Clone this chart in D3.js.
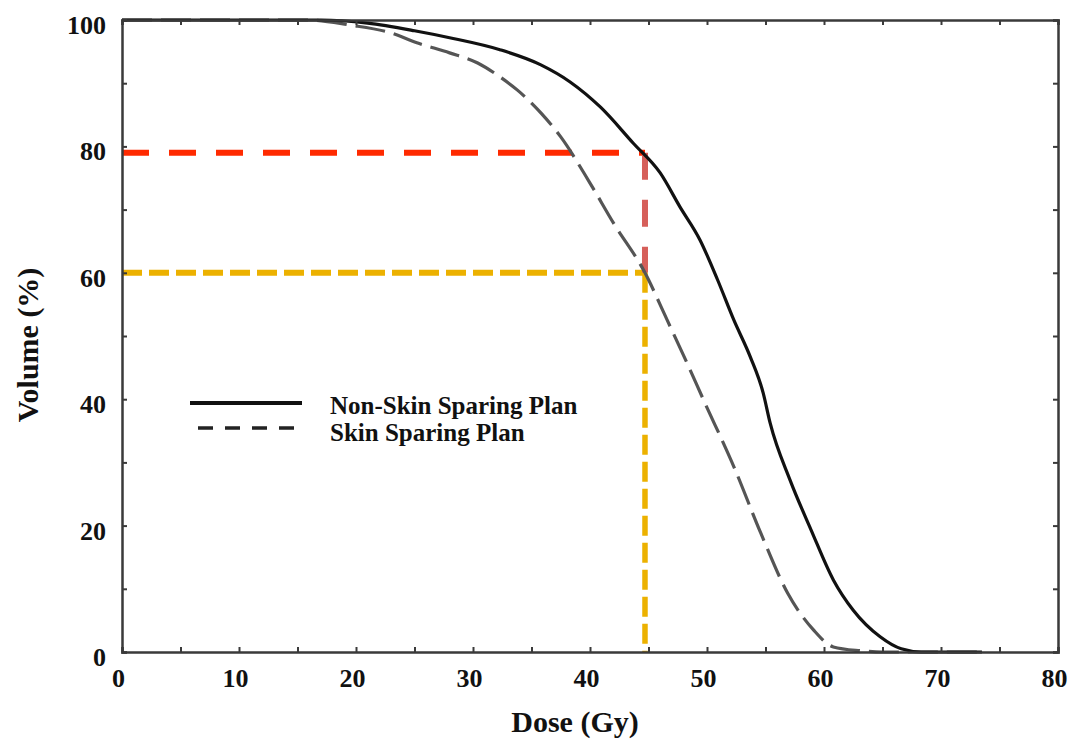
<!DOCTYPE html>
<html>
<head>
<meta charset="utf-8">
<title>Dose volume histogram</title>
<script src="https://cdn.jsdelivr.net/npm/d3@7"></script>
<style>
    html, body { margin: 0; padding: 0; background: #fff; }
    svg { display: block; }
    text { font-family: "Liberation Serif", "Times New Roman", serif; font-weight: bold; fill: #111; }
</style>
</head>
<body>
<div id="graph-01"></div>
<script>
// data
var X_TICKS = [0, 5, 10, 15, 20, 25, 30, 35, 40, 45, 50, 55, 60, 65, 70, 75, 80];
var Y_TICKS = [0, 10, 20, 30, 40, 50, 60, 70, 80, 90, 100];

// Non-Skin Sparing Plan (solid)
var solidDose = [0, 10, 17, 21, 25, 28, 32.3, 35.8, 38.3, 40.9, 43.7, 46, 47.7, 49.4, 50.9, 52.3, 53.7, 54.8, 55.4, 57.1, 58.9, 60.8, 62.5, 64.8, 66.6, 68.3, 73.5];
var solidVol  = [100, 100, 100, 99.5, 98.3, 97.2, 95.3, 92.9, 90.2, 86.2, 80.5, 75.8, 70.4, 65.2, 58.9, 52.5, 46.7, 41, 36.2, 27.2, 19.3, 11.4, 6.6, 2.4, 0.5, 0, 0];

// Skin Sparing Plan (dashed)
var dashDose = [0, 10, 16, 19.5, 22.9, 25.2, 28, 30.4, 32.3, 33.8, 35.8, 37.5, 40, 42, 44.7, 46.6, 48.3, 49.7, 52.3, 54.6, 56.9, 59.1, 60.8, 63.1, 65, 73.4];
var dashVol  = [100, 100, 100, 99.2, 98, 96.4, 94.8, 93.2, 91, 88.9, 85.3, 81.5, 74.2, 67.9, 60, 52.5, 45.7, 39.9, 29.3, 18.8, 9.3, 3.5, 0.8, 0.2, 0, 0];

// reference marks
var refDose = 44.7;       // vertical marker dose
var refLevels = [79, 60]; // red and yellow volume levels

var legendLabels = ['Non-Skin Sparing Plan', 'Skin Sparing Plan'];

(function(){
    // constants
    var WIDTH           = 1068, // of svg
        HEIGHT          = 743,  // of svg

        MARGIN_LEFT     = 122,  // space before y axis
        MARGIN_RIGHT    = 10,   // space after graph
        MARGIN_BOTTOM   = 91,   // space after x axis
        MARGIN_TOP      = 20,   // space before graph

        PLOT_W          = WIDTH - MARGIN_LEFT - MARGIN_RIGHT,
        PLOT_H          = HEIGHT - MARGIN_TOP - MARGIN_BOTTOM,

        AXIS_COLOR      = '#3a3a3a',
        RED             = '#ff2a00',
        RED_SOFT        = '#d65f5a',
        YELLOW          = '#ecb100';

    var svg = d3.select('div#graph-01')
        .append('svg')
        .attr('width', WIDTH)
        .attr('height', HEIGHT);

    svg.append('rect')
        .attr('width', WIDTH)
        .attr('height', HEIGHT)
        .attr('fill', '#fff');

    var g = svg.append('g')
        .attr('transform', 'translate(' + MARGIN_LEFT + ',' + MARGIN_TOP + ')');

    var x = d3.scaleLinear().domain([0, 80]).range([0, PLOT_W]);
    var y = d3.scaleLinear().domain([0, 100]).range([PLOT_H, 0]);

    // reference dashed lines (under the curves)
    function hLine(level, color, dash, width){
        g.append('line')
            .attr('x1', x(0)).attr('x2', x(refDose))
            .attr('y1', y(level)).attr('y2', y(level))
            .attr('stroke', color)
            .attr('stroke-width', width)
            .attr('stroke-dasharray', dash);
    }
    function vLine(top, bottom, color, dash, width){
        g.append('line')
            .attr('x1', x(refDose)).attr('x2', x(refDose))
            .attr('y1', y(top)).attr('y2', y(bottom))
            .attr('stroke', color)
            .attr('stroke-width', width)
            .attr('stroke-dasharray', dash);
    }
    hLine(refLevels[0], RED, '27,20', 6);
    hLine(refLevels[1], YELLOW, '20,7', 6);
    vLine(refLevels[0], refLevels[1], RED_SOFT, '27,20', 6);
    vLine(refLevels[1], 0, YELLOW, '20,7', 5.5);

    // curves
    var line = d3.line()
        .x(function(d){ return x(d[0]); })
        .y(function(d){ return y(d[1]); })
        .curve(d3.curveMonotoneX);

    g.append('path')
        .datum(d3.zip(dashDose, dashVol))
        .attr('d', line)
        .attr('fill', 'none')
        .attr('stroke', '#555')
        .attr('stroke-width', 3.2)
        .attr('stroke-dasharray', '30,9');

    g.append('path')
        .datum(d3.zip(solidDose, solidVol))
        .attr('d', line)
        .attr('fill', 'none')
        .attr('stroke', '#111')
        .attr('stroke-width', 3.2);

    // AXES -----
    var xAxis = d3.axisBottom(x)
        .tickValues(X_TICKS)
        .tickSize(-5)
        .tickPadding(17)
        .tickFormat(function(d){ return d % 10 === 0 ? d : ''; });

    var xg = g.append('g')
        .attr('transform', 'translate(0,' + PLOT_H + ')')
        .call(xAxis);

    var yAxis = d3.axisLeft(y)
        .tickValues(Y_TICKS)
        .tickSize(-5)
        .tickPadding(16)
        .tickFormat(function(d){ return d % 20 === 0 ? d : ''; });

    var yg = g.append('g').call(yAxis);

    // top and right borders with inward ticks
    var tg = g.append('g')
        .call(d3.axisTop(x).tickValues(X_TICKS).tickSize(-5).tickFormat(''));
    var rg = g.append('g')
        .attr('transform', 'translate(' + PLOT_W + ',0)')
        .call(d3.axisRight(y).tickValues(Y_TICKS).tickSize(-5).tickFormat(''));

    [xg, yg, tg, rg].forEach(function(a){
        a.select('.domain')
            .attr('stroke', AXIS_COLOR)
            .attr('stroke-width', 2.5);
        a.selectAll('.tick line')
            .attr('stroke', AXIS_COLOR)
            .attr('stroke-width', 2);
        a.selectAll('.tick text')
            .attr('fill', '#111')
            .style('font-size', '26px')
            .style('font-family', '"Liberation Serif", serif')
            .style('font-weight', 'bold');
    });
    xg.selectAll('.tick text').attr('dx', '-4');
    yg.selectAll('.tick text').attr('dy', '0.52em');

    // axis titles
    svg.append('text')
        .attr('x', 575)
        .attr('y', 732)
        .attr('text-anchor', 'middle')
        .style('font-size', '30px')
        .text('Dose (Gy)');

    svg.append('text')
        .attr('transform', 'translate(38,345) rotate(-90)')
        .attr('text-anchor', 'middle')
        .style('font-size', '30px')
        .text('Volume (%)');

    // LEGEND -----
    var lg = svg.append('g');
    lg.append('line')
        .attr('x1', 190).attr('x2', 302)
        .attr('y1', 403).attr('y2', 403)
        .attr('stroke', '#111')
        .attr('stroke-width', 4);
    lg.append('line')
        .attr('x1', 198).attr('x2', 302)
        .attr('y1', 428).attr('y2', 428)
        .attr('stroke', '#222')
        .attr('stroke-width', 3.5)
        .attr('stroke-dasharray', '15,12');

    lg.selectAll('text.leg')
        .data(legendLabels)
        .enter().append('text')
        .attr('class', 'leg')
        .attr('x', 330)
        .attr('y', function(d, i){ return 414 + i * 27; })
        .style('font-size', '25px')
        .text(function(d){ return d; });
})();
</script>
</body>
</html>
